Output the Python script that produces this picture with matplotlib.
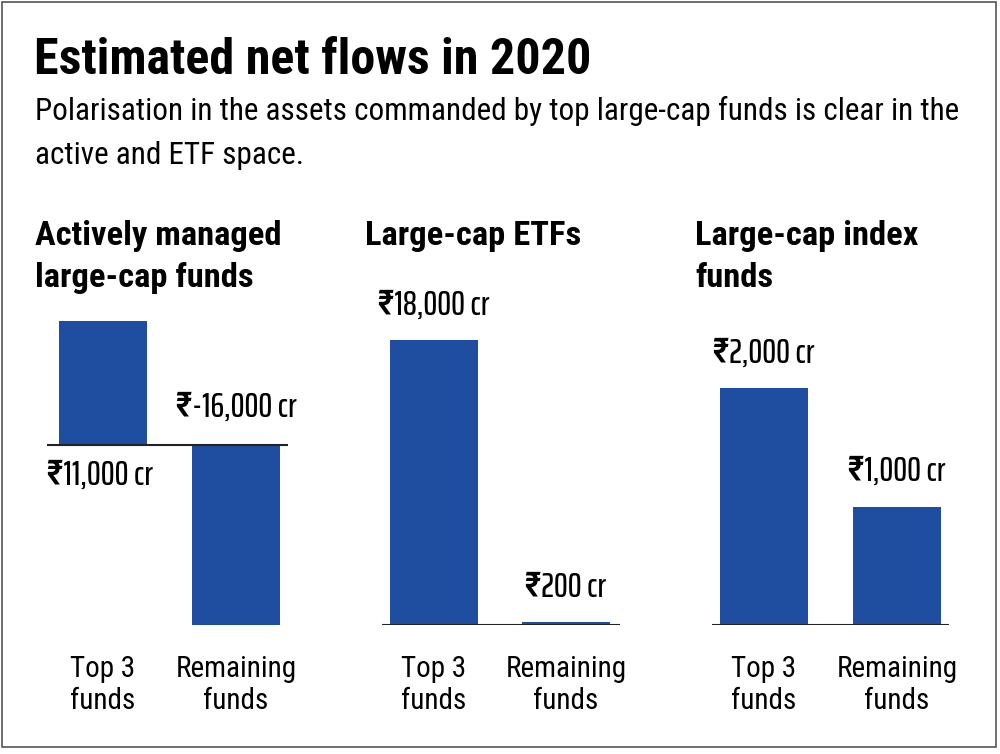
import matplotlib
matplotlib.use("Agg")
import matplotlib.pyplot as plt
from matplotlib.patches import Rectangle

FAM = ['Roboto Condensed', 'DejaVu Sans']
VFAM = ['Saira ExtraCondensed', 'Roboto Condensed', 'DejaVu Sans']
plt.rcParams['font.family'] = FAM

title = "Estimated net flows in 2020"
subtitle = "Polarisation in the assets commanded by top large-cap funds is clear in the\nactive and ETF space."
panel_titles = ["Actively managed\nlarge-cap funds", "Large-cap ETFs", "Large-cap index\nfunds"]
categories = ["Top 3\nfunds", "Remaining\nfunds"]
active_vals = [11000, -16000]
etf_vals = [18000, 200]
index_vals = [2000, 1000]
active_labels = ["₹11,000 cr", "₹-16,000 cr"]
etf_labels = ["₹18,000 cr", "₹200 cr"]
index_labels = ["₹2,000 cr", "₹1,000 cr"]

W, H = 1000, 754
fig = plt.figure(figsize=(W / 100, H / 100), dpi=100)
BLUE = '#1F4EA0'

def fx(x):
    return x / W

def fy(y):
    return 1 - y / H

# border
fig.patches.append(Rectangle((fx(2), fy(747)), fx(996) - fx(2), fy(2) - fy(747),
                             transform=fig.transFigure, fill=False, ec='#555555', lw=1.2))

fig.text(fx(34), fy(60), title, fontsize=36, fontweight='bold', va='center', ha='left')
fig.text(fx(35), fy(111), subtitle.split('\n')[0], fontsize=22.4, va='center', ha='left')
fig.text(fx(35), fy(156), subtitle.split('\n')[1], fontsize=22.4, va='center', ha='left')

# c0, c1: bar centres in pixels; unit = spacing
panels = [
    dict(x0=47, x1=288, c0=103, c1=236, top=300, bot=625, ymin=-16000, ymax=-16000 + (625 - 300) * 11000 / 124,
         vals=active_vals, labels=active_labels, tx=35, ty=[236, 278], title=panel_titles[0]),
    dict(x0=382, x1=620, c0=434, c1=566, top=300, bot=625, ymin=0, ymax=(625 - 300) * 18000 / 285,
         vals=etf_vals, labels=etf_labels, tx=365, ty=[236], title=panel_titles[1]),
    dict(x0=712, x1=949, c0=764, c1=897, top=300, bot=625, ymin=0, ymax=(625 - 300) * 2000 / 237,
         vals=index_vals, labels=index_labels, tx=695, ty=[236, 278], title=panel_titles[2]),
]

for i, p in enumerate(panels):
    ax = fig.add_axes([fx(p['x0']), fy(p['bot']), fx(p['x1']) - fx(p['x0']), fy(p['top']) - fy(p['bot'])])
    unit = p['c1'] - p['c0']
    ax.set_xlim(-(p['c0'] - p['x0']) / unit, 1 + (p['x1'] - p['c1']) / unit)
    ax.set_ylim(p['ymin'], p['ymax'])
    ax.bar([0, 1], p['vals'], width=88 / unit, color=BLUE, zorder=2)
    ax.axhline(0, color='#222222', lw=1.5, zorder=3)
    ax.axis('off')
    for j, (v, lab) in enumerate(zip(p['vals'], p['labels'])):
        if i == 0 and j == 0:
            xy, off = (0, 0), (-2, -22)
        elif i == 0 and j == 1:
            xy, off = (1, 0), (0, 27)
        else:
            xy, off = (j, v), (0, 25)
        ax.annotate(lab, xy, xytext=off, textcoords='offset points',
                    ha='center', va='center', fontsize=25, fontweight='medium', family=VFAM)
    for j, c in enumerate(categories):
        ax.annotate(c, (j, p['ymin']), xytext=(0, -43), textcoords='offset points',
                    ha='center', va='center', fontsize=21, linespacing=1.2,
                    annotation_clip=False)
    lines = p['title'].split('\n')
    for k, line in enumerate(lines):
        fig.text(fx(p['tx']), fy(p['ty'][k]), line, fontsize=24.8, fontweight='bold',
                 ha='left', va='center')

fig.savefig('out.png', dpi=100)
